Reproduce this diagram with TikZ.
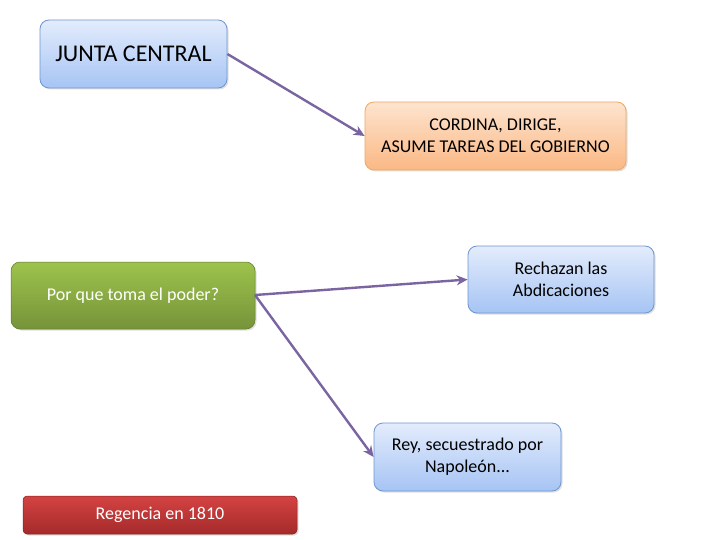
\documentclass[tikz,border=0pt]{standalone}
\usepackage{fontspec}
\setmainfont{Carlito}
\usetikzlibrary{arrows.meta,shadows}
\definecolor{arrowc}{HTML}{7B64A2}
\definecolor{bluetop}{HTML}{E3ECFC}
\definecolor{bluebot}{HTML}{A6C4F4}
\definecolor{blueedge}{HTML}{6F95D0}
\definecolor{orgtop}{HTML}{FDE4CF}
\definecolor{orgbot}{HTML}{FBB884}
\definecolor{orgedge}{HTML}{F0A860}
\definecolor{grntop}{HTML}{9DC34C}
\definecolor{grnbot}{HTML}{76933A}
\definecolor{redtop}{HTML}{D44343}
\definecolor{redbot}{HTML}{A52A2A}
\tikzset{
  boxbase/.style={rounded corners=9pt, inner sep=0pt, align=center,
    drop shadow={shadow xshift=1.5pt,shadow yshift=-1.5pt,opacity=0.25}},
  bluebox/.style={boxbase, draw=blueedge, line width=0.8pt, top color=bluetop, bottom color=bluebot, font=\fontsize{18}{22}\selectfont},
  orgbox/.style={boxbase, draw=orgedge, line width=0.8pt, top color=orgtop, bottom color=orgbot, font=\fontsize{18}{22}\selectfont},
  grnbox/.style={boxbase, draw=grnbot!80!black, line width=0.5pt, top color=grntop, bottom color=grnbot, text=white, font=\fontsize{18}{22}\selectfont},
  redbox/.style={boxbase, rounded corners=4pt, draw=redbot!80!black, line width=0.5pt, top color=redtop, bottom color=redbot, text=white, font=\fontsize{18}{22}\selectfont},
  conn/.style={draw=arrowc, line width=2.4pt, -{Stealth[length=11pt,width=10pt]}},
}
\begin{document}
\begin{tikzpicture}[x=1pt,y=-1pt]
\useasboundingbox (0,0) rectangle (720,540);
\node[bluebox, minimum width=187pt, minimum height=68pt, font=\fontsize{24}{28}\selectfont] (junta) at (133.5,54) {JUNTA CENTRAL};
\node[orgbox, minimum width=261pt, minimum height=68pt] (cord) at (495.5,136) {CORDINA, DIRIGE,\\ASUME TAREAS DEL GOBIERNO};
\node[grnbox, minimum width=244pt, minimum height=67pt] (porque) at (133,295.5) {Por que toma el poder?};
\node[bluebox, minimum width=186pt, minimum height=67pt] (rech) at (561,279.5) {Rechazan las\\Abdicaciones};
\node[bluebox, minimum width=187pt, minimum height=68pt] (rey) at (467.5,457) {Rey, secuestrado por\\Napoleón...};
\node[redbox, minimum width=274pt, minimum height=38pt] (reg) at (160,515) {Regencia en 1810};
\coordinate (pq) at (255,295);
\draw[conn] (junta.east) -- (cord.west);
\draw[conn] (pq) -- (rech.west);
\draw[conn] (pq) -- (rey.west);
\end{tikzpicture}
\end{document}
